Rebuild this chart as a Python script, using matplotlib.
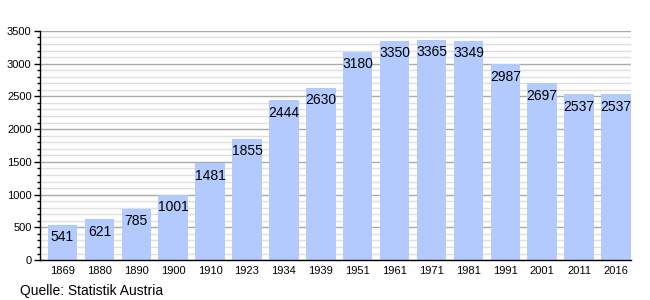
import matplotlib.pyplot as plt
from matplotlib.ticker import MultipleLocator

plt.rcParams['font.family'] = ['Liberation Sans', 'DejaVu Sans']

jahre = ["1869", "1880", "1890", "1900", "1910", "1923", "1934", "1939",
         "1951", "1961", "1971", "1981", "1991", "2001", "2011", "2016"]
einwohner = [541, 621, 785, 1001, 1481, 1855, 2444, 2630,
             3180, 3350, 3365, 3349, 2987, 2697, 2537, 2537]

fig = plt.figure(figsize=(6.5, 3), dpi=100)
ax = fig.add_axes([0.0615, 0.133, 0.9095, 0.764])

pos = list(range(len(jahre)))
ax.bar(pos, einwohner, width=0.8, color="#b3caff", zorder=2)

for x, v in zip(pos, einwohner):
    ax.annotate(str(v), (x, v), xytext=(0, -4), textcoords="offset points",
                ha="center", va="top", fontsize=10, color="black", zorder=3)

ax.set_xlim(-0.61, 15.41)
ax.set_ylim(0, 3500)
ax.set_xticks(pos)
ax.set_xticklabels(jahre, fontsize=8)
ax.tick_params(axis="x", length=0, pad=4)
ax.yaxis.set_major_locator(MultipleLocator(500))
ax.yaxis.set_minor_locator(MultipleLocator(100))
ax.tick_params(axis="y", which="major", length=4, width=1, labelsize=8, pad=2)
ax.tick_params(axis="y", which="minor", length=2, width=1)

ax.grid(axis="y", which="major", color="#aaaaaa", linewidth=1, zorder=0)
ax.grid(axis="y", which="minor", color="#e0e0e0", linewidth=1, zorder=0)
ax.set_axisbelow(True)

for s in ["top", "right"]:
    ax.spines[s].set_visible(False)
ax.spines["left"].set_linewidth(1)
ax.spines["bottom"].set_linewidth(1)

fig.text(20 / 650, 1 - 291 / 300, "Quelle: Statistik Austria", fontsize=10,
         va="center", ha="left")

fig.savefig("out.png", dpi=100)
